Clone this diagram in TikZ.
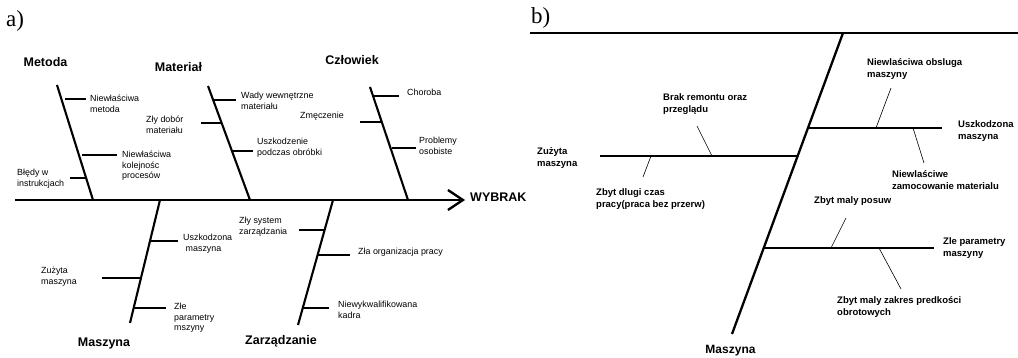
\documentclass[tikz,border=0pt]{standalone}
\usepackage{fontspec}
\setmainfont{Liberation Sans}
\newfontfamily\serifletter{Liberation Serif}
\usetikzlibrary{arrows.meta}
\tikzset{
  spine/.style={line width=2.3pt},
  bone/.style={line width=2.1pt},
  subbone/.style={line width=1.9pt},
  bbone/.style={line width=2.3pt},
  leader/.style={line width=0.6pt},
  cat/.style={font=\fontsize{12.5}{15}\selectfont\bfseries, inner sep=0},
  lbl/.style={font=\fontsize{8.9}{10.5}\selectfont, align=left, inner sep=0, anchor=north west},
  lblb/.style={font=\fontsize{9.5}{12}\selectfont\bfseries, align=left, inner sep=0, anchor=north west},
  panel/.style={font=\fontsize{23}{26}\selectfont\serifletter, inner sep=0, anchor=west}
}
\begin{document}
\begin{tikzpicture}[x=1pt,y=-1pt]
\useasboundingbox (0,0) rectangle (1018,358);
% ---------------- a) ----------------
\node[panel] (pa) at (6,21) {a)};
\coordinate (s0) at (15,200);
\coordinate (s1) at (465,200);
\draw[spine,-{Straight Barb[length=15pt,width=20pt]}] (s0) -- (s1);
\node[font=\fontsize{12.5}{15}\selectfont\bfseries, inner sep=0, anchor=west] (wyb) at (470,197) {WYBRAK};
% Metoda
\coordinate (m0) at (57,85); \coordinate (m1) at (93,200);
\draw[bone] (m0) -- (m1);
\node[cat] (met) at (45.5,62) {Metoda};
\coordinate (m2) at (65,99);  \coordinate (m2e) at (86,99);
\coordinate (m3) at (82,155); \coordinate (m3e) at (117,155);
\coordinate (m4) at (86,178); \coordinate (m4e) at (70,178);
\draw[subbone] (m2) -- (m2e);
\draw[subbone] (m3) -- (m3e);
\draw[subbone] (m4) -- (m4e);
\node[lbl] (t1) at (90,95) {Niewłaściwa\\metoda};
\node[lbl] (t2) at (122,151) {Niewłaściwa\\kolejnośc\\procesów};
\node[lbl] (t3) at (17,169) {Błędy w\\instrukcjach};
% Materiał
\coordinate (a0) at (208,86); \coordinate (a1) at (250,200);
\draw[bone] (a0) -- (a1);
\node[cat] (mat) at (178.5,67) {Materiał};
\coordinate (a2) at (214,100); \coordinate (a2e) at (236,100);
\coordinate (a3) at (221,123); \coordinate (a3e) at (201,123);
\coordinate (a4) at (233,151); \coordinate (a4e) at (253,151);
\draw[subbone] (a2) -- (a2e);
\draw[subbone] (a3) -- (a3e);
\draw[subbone] (a4) -- (a4e);
\node[lbl] (t4) at (241,92) {Wady wewnętrzne\\materiału};
\node[lbl] (t5) at (146,116) {Zły dobór\\materiału};
\node[lbl] (t6) at (257,138) {Uszkodzenie\\podczas obróbki};
% Człowiek
\coordinate (c0) at (370,87); \coordinate (c1) at (408,200);
\draw[bone] (c0) -- (c1);
\node[cat] (czl) at (352,60) {Człowiek};
\coordinate (c2) at (374,96);  \coordinate (c2e) at (399,96);
\coordinate (c3) at (382,122); \coordinate (c3e) at (360,122);
\coordinate (c4) at (392,148); \coordinate (c4e) at (416,148);
\draw[subbone] (c2) -- (c2e);
\draw[subbone] (c3) -- (c3e);
\draw[subbone] (c4) -- (c4e);
\node[lbl] (t7) at (407,89) {Choroba};
\node[lbl] (t8) at (300,112) {Zmęczenie};
\node[lbl] (t9) at (419,137) {Problemy\\osobiste};
% Maszyna
\coordinate (z0) at (160,200); \coordinate (z1) at (130,323);
\draw[bone] (z0) -- (z1);
\node[cat] (masz) at (104,343) {Maszyna};
\coordinate (z2) at (150,241); \coordinate (z2e) at (178,241);
\coordinate (z3) at (141,278); \coordinate (z3e) at (102,278);
\coordinate (z4) at (134,308); \coordinate (z4e) at (166,308);
\draw[subbone] (z2) -- (z2e);
\draw[subbone] (z3) -- (z3e);
\draw[subbone] (z4) -- (z4e);
\node[lbl] (t10) at (183,234) {Uszkodzona\\\hspace*{2.5pt}maszyna};
\node[lbl] (t11) at (41,267) {Zużyta\\maszyna};
\node[lbl] (t12) at (174,303) {Złe\\parametry\\mszyny};
% Zarządzanie
\coordinate (r0) at (333,200); \coordinate (r1) at (298,325);
\draw[bone] (r0) -- (r1);
\node[cat] (zarz) at (281,341) {Zarządzanie};
\coordinate (r2) at (324,230); \coordinate (r2e) at (299,230);
\coordinate (r3) at (317,255); \coordinate (r3e) at (350,255);
\coordinate (r4) at (303,308); \coordinate (r4e) at (329,308);
\draw[subbone] (r2) -- (r2e);
\draw[subbone] (r3) -- (r3e);
\draw[subbone] (r4) -- (r4e);
\node[lbl] (t13) at (239,217) {Zły system\\zarządzania};
\node[lbl] (t14) at (358,248) {Zła organizacja pracy};
\node[lbl] (t15) at (338,301) {Niewykwalifikowana\\kadra};
% ---------------- b) ----------------
\node[panel] (pb) at (531,18) {b)};
\coordinate (h0) at (530,33); \coordinate (h1) at (1018,33);
\draw[bbone] (h0) -- (h1);
\coordinate (d0) at (843,33); \coordinate (d1) at (732,334);
\draw[bbone] (d0) -- (d1);
\node[font=\fontsize{12}{14}\selectfont\bfseries, inner sep=0] (bm) at (730.5,351) {Maszyna};
% branch 1
\coordinate (b1a) at (797.5,156); \coordinate (b1b) at (600,156);
\draw[bbone] (b1a) -- (b1b);
\node[lblb] (u1) at (537,147) {Zużyta\\maszyna};
\node[lblb] (u2) at (663,93) {Brak remontu oraz\\przeglądu};
\node[lblb] (u3) at (596,188) {Zbyt dlugi czas\\pracy(praca bez przerw)};
\coordinate (l1a) at (697,126); \coordinate (l1b) at (712,156);
\coordinate (l2a) at (651,156); \coordinate (l2b) at (643,177);
\draw[leader] (l1a) -- (l1b);
\draw[leader] (l2a) -- (l2b);
% branch 2
\coordinate (b2a) at (808,128); \coordinate (b2b) at (942,128);
\draw[bbone] (b2a) -- (b2b);
\node[lblb] (u4) at (958,120) {Uszkodzona\\maszyna};
\node[lblb] (u5) at (867,58) {Niewlaściwa obsluga\\maszyny};
\node[lblb] (u6) at (892,170) {Niewlaściwe\\zamocowanie materialu};
\coordinate (l3a) at (891,88); \coordinate (l3b) at (876,128);
\coordinate (l4a) at (913,128); \coordinate (l4b) at (924,163);
\draw[leader] (l3a) -- (l3b);
\draw[leader] (l4a) -- (l4b);
% branch 3
\coordinate (b3a) at (763.5,248); \coordinate (b3b) at (934,248);
\draw[bbone] (b3a) -- (b3b);
\node[lblb] (u7) at (943,237) {Zle parametry\\maszyny};
\node[lblb] (u8) at (814,196) {Zbyt maly posuw};
\node[lblb] (u9) at (837,296) {Zbyt maly zakres predkości\\obrotowych};
\coordinate (l5a) at (846,218); \coordinate (l5b) at (831,248);
\coordinate (l6a) at (879,248); \coordinate (l6b) at (901,289);
\draw[leader] (l5a) -- (l5b);
\draw[leader] (l6a) -- (l6b);
\end{tikzpicture}
\end{document}
